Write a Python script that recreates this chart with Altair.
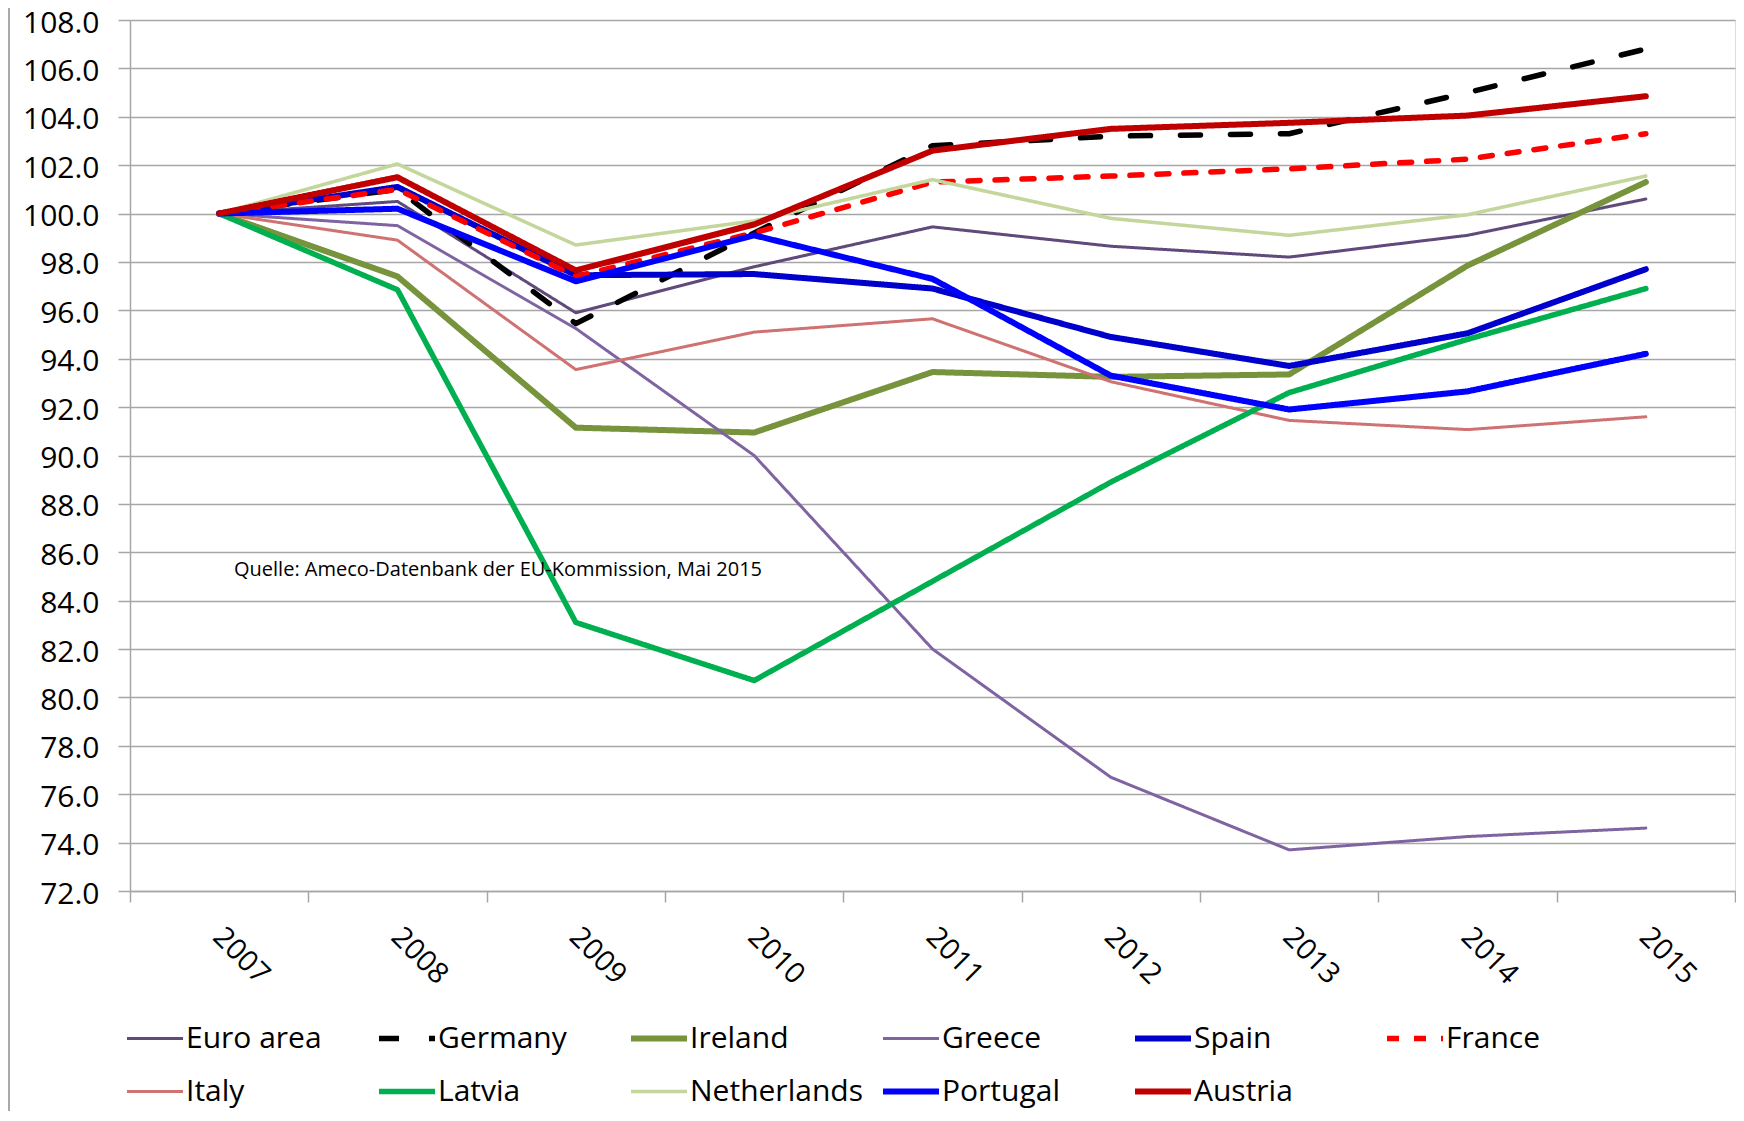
import altair as alt
import pandas as pd

years = ["2007", "2008", "2009", "2010", "2011", "2012", "2013", "2014", "2015"]
series = ["Euro area", "Germany", "Ireland", "Greece", "Spain", "France",
          "Italy", "Latvia", "Netherlands", "Portugal", "Austria"]

euro_area   = [100.0, 100.5, 95.9, 97.8, 99.45, 98.65, 98.2, 99.1, 100.6]
germany     = [100.0, 101.0, 95.45, 99.2, 102.8, 103.2, 103.3, 105.0, 106.8]
ireland     = [100.0, 97.4, 91.15, 90.95, 93.45, 93.25, 93.35, 97.85, 101.3]
greece      = [100.0, 99.5, 95.25, 90.0, 82.0, 76.7, 73.7, 74.25, 74.6]
spain       = [100.0, 101.1, 97.45, 97.5, 96.9, 94.9, 93.7, 95.05, 97.7]
france      = [100.0, 101.0, 97.4, 99.2, 101.3, 101.55, 101.85, 102.25, 103.3]
italy       = [100.0, 98.9, 93.55, 95.1, 95.65, 93.05, 91.45, 91.07, 91.6]
latvia      = [100.0, 96.85, 83.1, 80.7, 84.8, 88.9, 92.6, 94.8, 96.9]
netherlands = [100.0, 102.05, 98.7, 99.7, 101.4, 99.8, 99.1, 99.95, 101.55]
portugal    = [100.0, 100.2, 97.2, 99.1, 97.3, 93.3, 91.9, 92.65, 94.2]
austria     = [100.0, 101.5, 97.65, 99.55, 102.6, 103.5, 103.75, 104.05, 104.85]

values = [euro_area, germany, ireland, greece, spain, france,
          italy, latvia, netherlands, portugal, austria]

colors = ["#604A7B", "#000000", "#77933C", "#8064A2", "#0000CC", "#FF0000",
          "#CF7372", "#00B050", "#C3D69B", "#0000FF", "#C00000"]
widths = [3, 5.5, 6, 3, 6, 5.5, 3, 5.5, 3.5, 6, 6]
dashes = [[1, 0], [20, 30], [1, 0], [1, 0], [1, 0], [12, 15],
          [1, 0], [1, 0], [1, 0], [1, 0], [1, 0]]

y_ticks = list(range(72, 109, 2))
source_note = "Quelle: Ameco-Datenbank der EU-Kommission, Mai 2015"

rows = []
for name, vals in zip(series, values):
    for yr, v in zip(years, vals):
        rows.append({"series": name, "year": yr, "value": v})
df = pd.DataFrame(rows)
note_df = pd.DataFrame({"note": [source_note]})

FONT = "Open Sans"

lines = alt.Chart(df).mark_line(strokeCap="round", strokeJoin="round").encode(
    x=alt.X("year:O", sort=years, bandPosition=0.5,
            scale=alt.Scale(type="band", domain=years, paddingInner=0, paddingOuter=0),
            axis=alt.Axis(title=None, tickBand="extent", labelAngle=45, labelAlign="left",
                          labelBaseline="top", labelPadding=20, labelOffset=8,
                          tickSize=11, grid=False, labelFontSize=29, labelFont=FONT,
                          labelColor="black", domainColor="#A6A6A6", tickColor="#A6A6A6",
                          domainWidth=1.5, tickWidth=1.5)),
    y=alt.Y("value:Q",
            scale=alt.Scale(domain=[72, 108], nice=False, zero=False),
            axis=alt.Axis(title=None, values=y_ticks, format=".1f", grid=True,
                          gridColor="#A6A6A6", gridWidth=1.5, tickSize=12,
                          tickColor="#A6A6A6", tickWidth=1.5, domainColor="#A6A6A6",
                          domainWidth=1.5, labelFontSize=30, labelFont=FONT,
                          labelColor="black", labelPadding=19, labelOffset=3)),
    color=alt.Color("series:N", sort=series,
                    scale=alt.Scale(domain=series, range=colors),
                    legend=alt.Legend(title=None, orient="none", legendX=-6, legendY=1002,
                                      columns=6, direction="horizontal",
                                      symbolType="stroke", symbolSize=3136,
                                      labelFontSize=30, labelFont=FONT, labelColor="black",
                                      labelOffset=0, labelLimit=400, gridAlign="all",
                                      columnPadding=17, rowPadding=20, clipHeight=33,
                                      padding=0)),
    strokeWidth=alt.StrokeWidth("series:N", sort=series,
                                scale=alt.Scale(type="ordinal", domain=series, range=widths)),
    strokeDash=alt.StrokeDash("series:N", sort=series,
                              scale=alt.Scale(domain=series, range=dashes)),
)

note = alt.Chart(note_df).mark_text(align="left", baseline="middle", fontSize=20,
                                    font=FONT, color="black").encode(
    x=alt.value(104), y=alt.value(550), text="note:N")

border = alt.Chart(note_df).mark_rule(color="#8C8C8C", strokeWidth=1.5).encode(
    x=alt.value(-121), y=alt.value(-12), y2=alt.value(1100))

chart = alt.layer(border, lines, note).properties(
    width=1605, height=871,
    padding={"left": 122, "top": 12, "right": 1, "bottom": 220},
    autosize=alt.AutoSizeParams(type="none"),
).configure_view(stroke=None).configure(font=FONT)

chart.save("out.html", embed_options={"renderer": "svg", "actions": False})
